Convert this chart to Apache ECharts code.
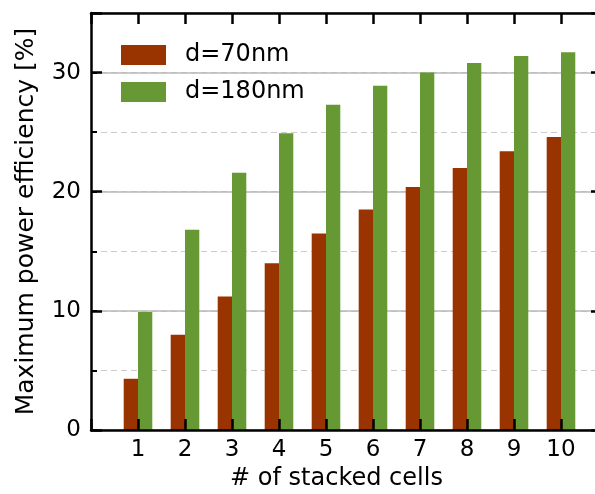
<!DOCTYPE html>
<html>
<head>
<meta charset="utf-8">
<script src="https://cdn.jsdelivr.net/npm/echarts@6/dist/echarts.min.js"></script>
<style>html,body{margin:0;padding:0;background:#fff;}#c{width:595px;height:494px;}</style>
</head>
<body>
<div id="c"></div>
<script>
var categories = [1, 2, 3, 4, 5, 6, 7, 8, 9, 10];
var d70 = [4.3, 8.0, 11.2, 14.0, 16.5, 18.5, 20.4, 22.0, 23.4, 24.6];
var d180 = [9.9, 16.8, 21.6, 24.9, 27.3, 28.9, 30.0, 30.8, 31.4, 31.7];
var yTicks = [0, 10, 20, 30];
var seriesNames = ['d=70nm', 'd=180nm'];

var FONT = 'DejaVu Sans';
var FS = 23;

function pairs(vals) {
  return categories.map(function (c, i) { return [c, vals[i]]; });
}
var chart = echarts.init(document.getElementById('c'), null, {renderer: 'canvas'});
var lineOnly = {show: true, onZero: false, lineStyle: {color: '#000', width: 2.5}};
var noLine = {show: false, onZero: false};
var tickStyle = {color: '#000', width: 2.5};
var xBase = {type: 'value', min: 0, max: 11, interval: 1, splitLine: {show: false}};
var yBase = {type: 'value', min: 0, max: 35, splitLine: {show: false}};
function ext(a, b) { var o = {}; for (var k in a) o[k] = a[k]; for (var k2 in b) o[k2] = b[k2]; return o; }

chart.setOption({
  animation: false,
  backgroundColor: '#fff',
  grid: {left: 91, width: 517, top: 13, height: 417, containLabel: false, outerBoundsMode: 'none'},
  legend: {
    orient: 'vertical', left: 121, top: 43, padding: 0,
    itemWidth: 45, itemHeight: 20, itemGap: 13,
    icon: 'rect',
    textStyle: {fontFamily: FONT, fontSize: 24, color: '#000', lineHeight: 20, padding: [0, 0, 0, 14]},
    data: seriesNames
  },
  xAxis: [
    ext(xBase, {
      position: 'bottom', z: 3,
      axisLine: lineOnly,
      axisTick: {show: false},
      axisLabel: {
        show: true, fontFamily: FONT, fontSize: FS, color: '#000', margin: 9,
        formatter: function (v) { return categories.indexOf(v) >= 0 ? String(v) : ''; }
      },
      name: '# of stacked cells', nameLocation: 'middle', nameGap: 34,
      nameTextStyle: {fontFamily: FONT, fontSize: 24, color: '#000', padding: [0, 26, 0, 0]}
    }),
    ext(xBase, {position: 'top', axisLine: lineOnly, axisTick: {show: false}, axisLabel: {show: false}}),
    ext(xBase, {position: 'bottom', z: 3, axisLine: noLine,
      axisTick: {show: true, inside: true, length: 11, lineStyle: tickStyle}, axisLabel: {show: false}}),
    ext(xBase, {position: 'top', axisLine: noLine,
      axisTick: {show: true, inside: true, length: 11, lineStyle: tickStyle}, axisLabel: {show: false}})
  ],
  yAxis: [
    ext(yBase, {position: 'left', interval: 5, axisLine: noLine,
      axisTick: {show: true, inside: true, length: 6, lineStyle: {color: '#000', width: 2}},
      axisLabel: {show: false},
      splitLine: {show: true, lineStyle: {color: '#cccccc', width: 1, type: [6, 4]}}}),
    ext(yBase, {position: 'left', interval: 10, axisLine: lineOnly,
      axisTick: {show: false},
      axisLabel: {
        show: true, fontFamily: FONT, fontSize: FS, color: '#000', margin: 10,
        formatter: function (v) { return yTicks.indexOf(v) >= 0 ? String(v) : ''; }
      },
      splitLine: {show: true, lineStyle: {color: '#b8b8b8', width: 1.5}},
      name: 'Maximum power efficiency [%]', nameLocation: 'middle', nameGap: 52,
      nameTextStyle: {fontFamily: FONT, fontSize: 25, color: '#000'}}),
    ext(yBase, {position: 'right', interval: 10, axisLine: lineOnly, axisTick: {show: false}, axisLabel: {show: false}}),
    ext(yBase, {position: 'right', interval: 10, axisLine: noLine,
      axisTick: {show: true, inside: true, length: 17, lineStyle: tickStyle}, axisLabel: {show: false}}),
    ext(yBase, {position: 'left', interval: 10, axisLine: noLine,
      axisTick: {show: true, inside: true, length: 11, lineStyle: tickStyle}, axisLabel: {show: false}})
  ],
  series: [{
    name: seriesNames[0], type: 'bar', xAxisIndex: 0, yAxisIndex: 1,
    barWidth: 14.3, barGap: '0%',
    itemStyle: {color: '#993300'},
    data: pairs(d70)
  }, {
    name: seriesNames[1], type: 'bar', xAxisIndex: 0, yAxisIndex: 1,
    barWidth: 14.3, barGap: '0%',
    itemStyle: {color: '#669933'},
    data: pairs(d180)
  }]
});
</script>
</body>
</html>
